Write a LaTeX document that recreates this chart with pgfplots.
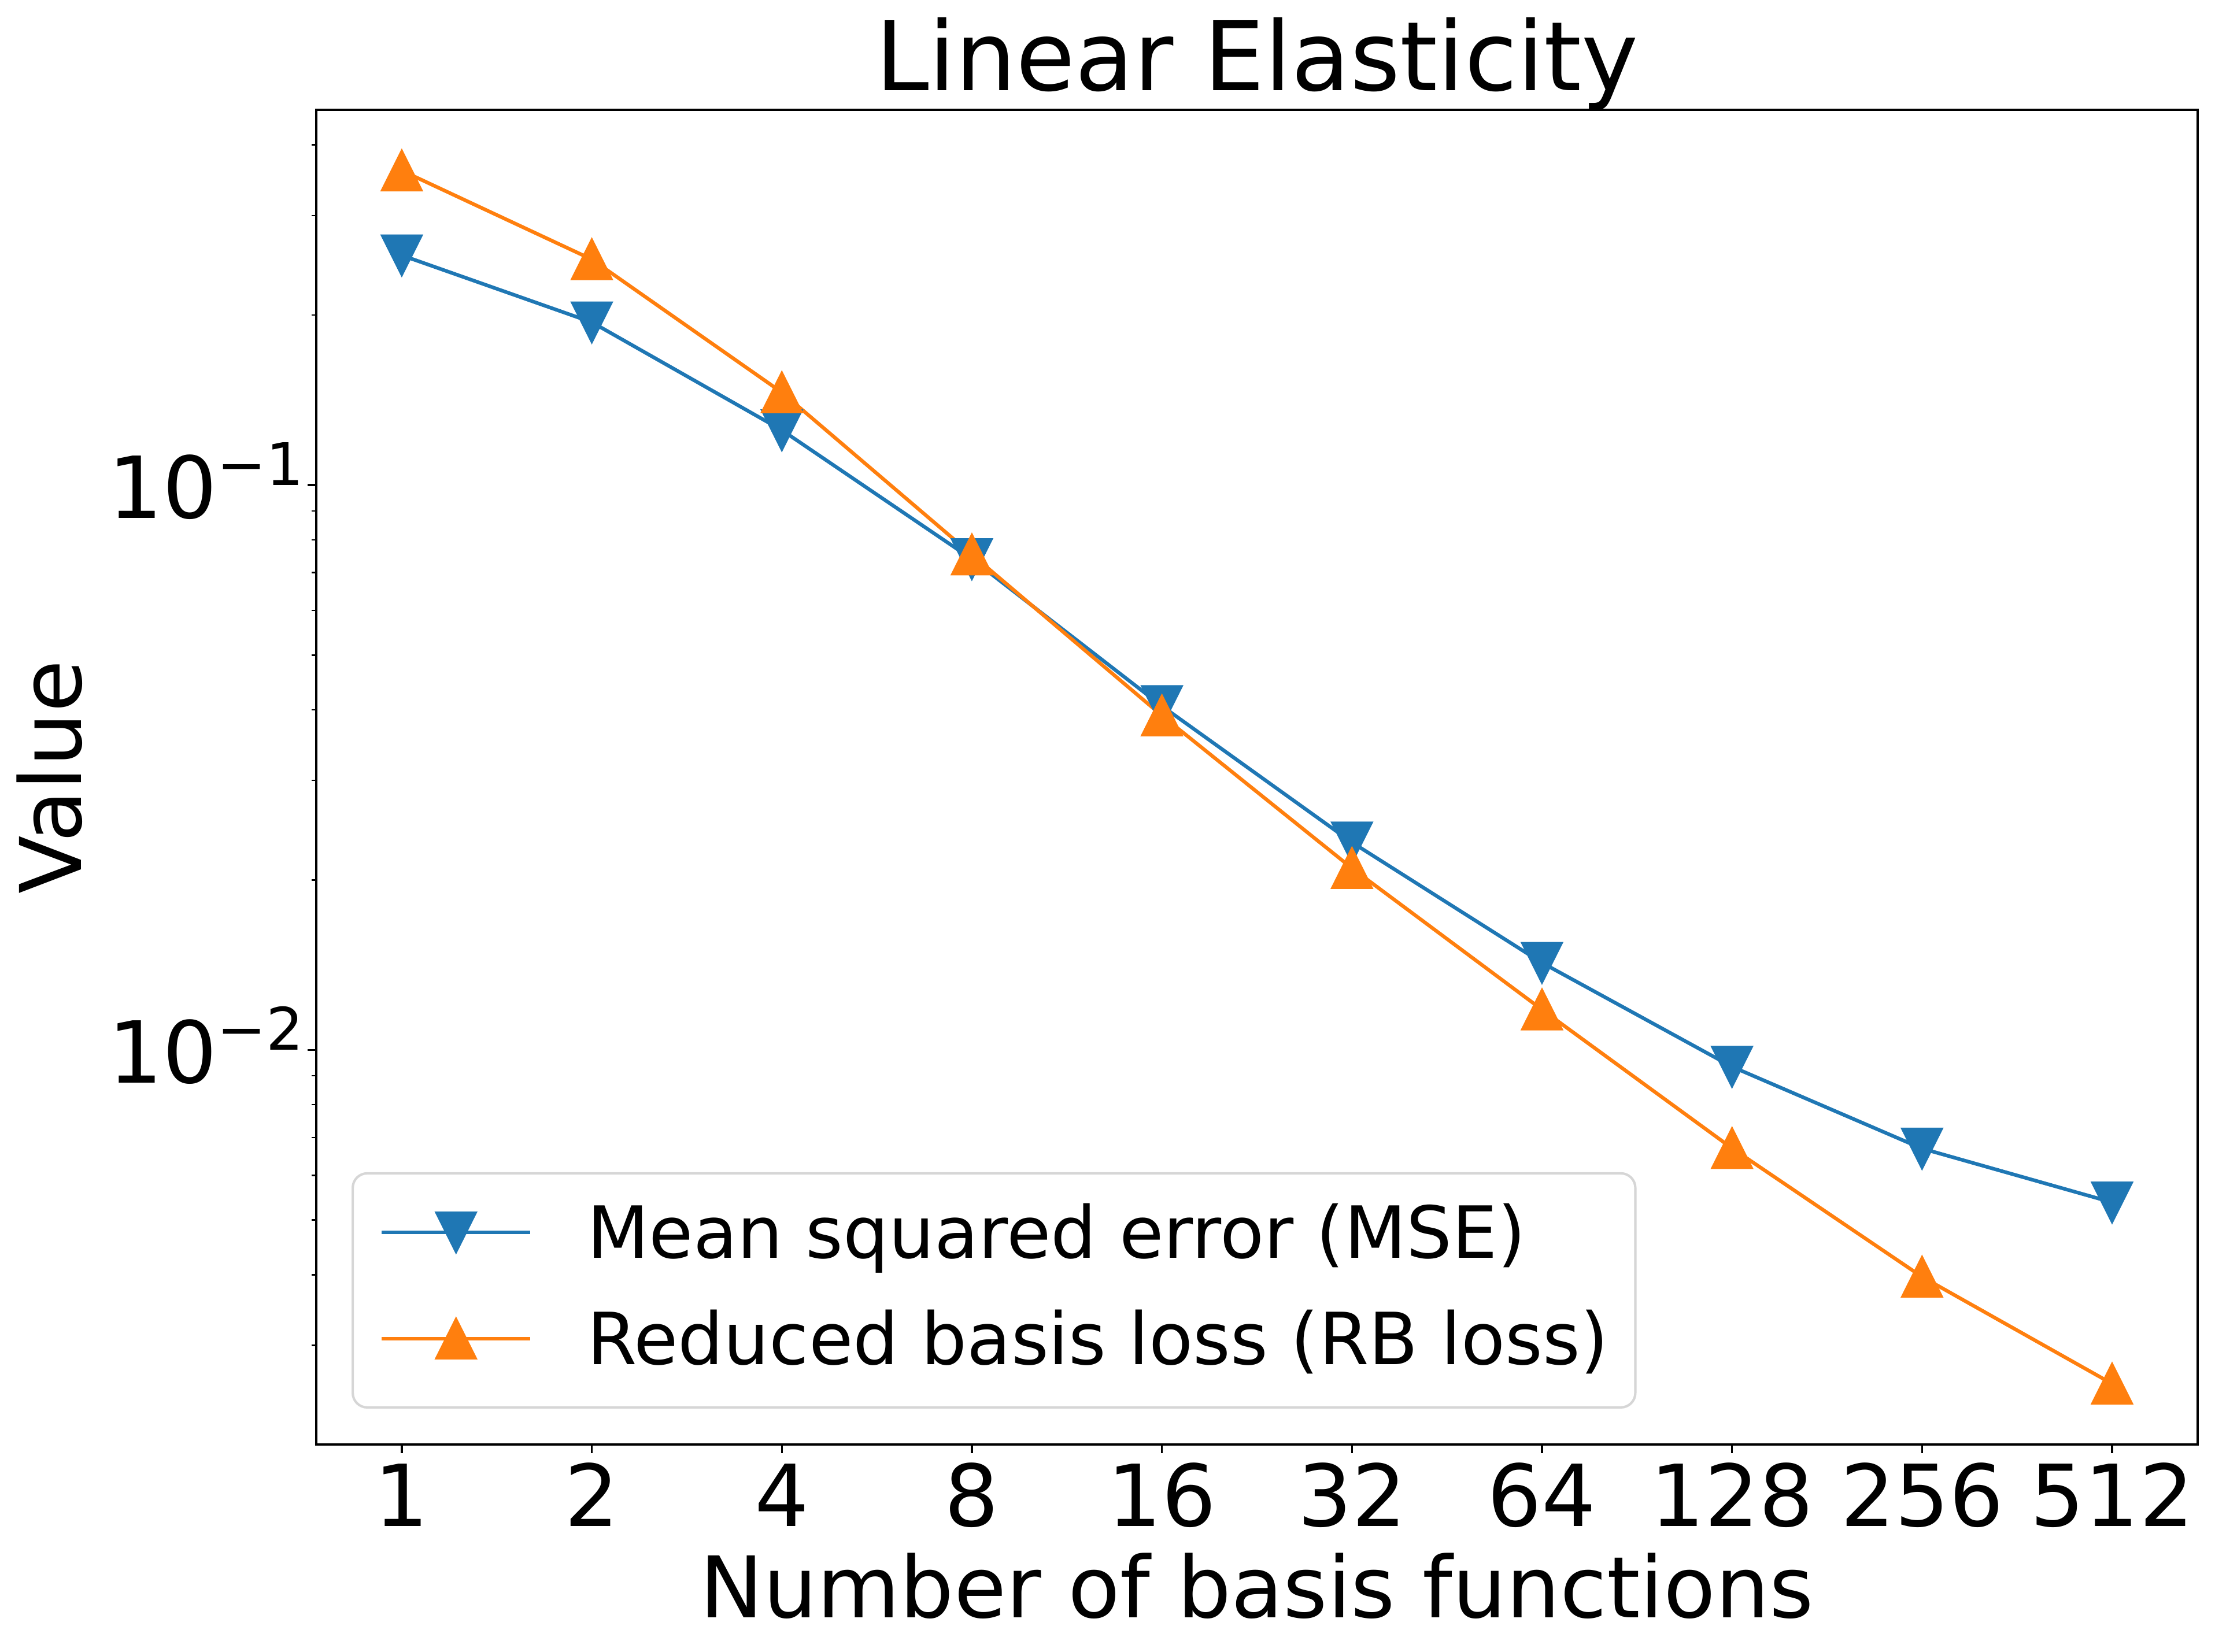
\documentclass[border=0pt]{standalone}
\usepackage{fontspec}
\setmainfont{DejaVu Sans}
\usepackage{pgfplots}
\pgfplotsset{compat=1.18}

\definecolor{mplblue}{HTML}{1F77B4}
\definecolor{mplorange}{HTML}{FF7F0E}
\definecolor{legframe}{HTML}{D6D6D6}

% matplotlib style triangles (width = height)
\pgfdeclareplotmark{tridown}{%
  \pgfpathmoveto{\pgfqpoint{0pt}{-\pgfplotmarksize}}%
  \pgfpathlineto{\pgfqpoint{-\pgfplotmarksize}{\pgfplotmarksize}}%
  \pgfpathlineto{\pgfqpoint{\pgfplotmarksize}{\pgfplotmarksize}}%
  \pgfpathclose
  \pgfusepathqfillstroke}
\pgfdeclareplotmark{triup}{%
  \pgfpathmoveto{\pgfqpoint{0pt}{\pgfplotmarksize}}%
  \pgfpathlineto{\pgfqpoint{-\pgfplotmarksize}{-\pgfplotmarksize}}%
  \pgfpathlineto{\pgfqpoint{\pgfplotmarksize}{-\pgfplotmarksize}}%
  \pgfpathclose
  \pgfusepathqfillstroke}

\newcommand{\expo}[1]{10\raisebox{5.7pt}{\fontsize{10.15}{12}\selectfont −#1}}

\begin{document}
\begin{tikzpicture}
\path[use as bounding box] (-54.7pt,-35.9pt) rectangle (328.4pt,249.9pt);
\begin{axis}[
  scale only axis, width=325.4pt, height=230.9pt,
  ymode=log,
  xmin=-0.45, xmax=9.45, ymin=0.002003, ymax=0.4615,
  xtick={0,...,9},
  xticklabels={1,2,4,8,16,32,64,128,256,512},
  ytick={0.01,0.1},
  yticklabels={\expo{2},\expo{1}},
  minor ytick={0.002,0.003,0.004,0.005,0.006,0.007,0.008,0.009,
    0.02,0.03,0.04,0.05,0.06,0.07,0.08,0.09,0.2,0.3,0.4},
  tick align=outside, xtick pos=left, ytick pos=left,
  major tick length=1.46pt, minor tick length=0.83pt,
  major tick style={black, line width=0.333pt},
  minor tick style={black, line width=0.25pt},
  axis line style={line width=0.333pt},
  xticklabel style={anchor=base, inner sep=0pt, yshift=-12.74pt, font=\fontsize{14.8}{17}\selectfont},
  yticklabel style={anchor=base east, inner sep=0pt, xshift=-0.5pt, yshift=-5.7pt, font=\fontsize{14.8}{17}\selectfont},
  title={Linear Elasticity},
  every axis title shift=0pt,
  title style={at={(0.5,1.01472)}, anchor=base, yshift=0pt, inner sep=0pt, font=\fontsize{16.6}{20}\selectfont},
  xlabel={Number of basis functions},
  xlabel style={at={(axis description cs:0.5,-0.12993)}, anchor=base, inner sep=0pt, font=\fontsize{14.7}{17}\selectfont},
  ylabel={Value},
  ylabel style={at={(axis description cs:-0.12477,0.5)}, anchor=base, inner sep=0pt, font=\fontsize{14.7}{17}\selectfont},
  legend style={
    at={(axis description cs:0.018746,0.026852)}, anchor=south west,
    draw=legframe, line width=0.417pt, rounded corners=2.5pt, fill=white,
    inner xsep=4.7pt, inner ysep=2pt, row sep=0.3pt, column sep=9.5pt,
    cells={anchor=base west},
    nodes={inner sep=0pt, text height=12.7pt, text depth=5.4pt},
    font=\fontsize{12.44}{15}\selectfont},
  legend image code/.code={\draw[sharp corners, mark repeat=2, mark phase=2, #1]
    plot coordinates {(0pt,4.5pt) (12.85pt,4.5pt) (25.7pt,4.5pt)};},
]
\addplot[mplblue, line width=0.625pt, mark=tridown, mark size=3.4pt,
  mark options={solid, fill=mplblue, line width=0.4pt}]
  coordinates {(0,0.2551)(1,0.1942)(2,0.1251)(3,0.07397)(4,0.04063)
    (5,0.02331)(6,0.01427)(7,0.009342)(8,0.006693)(9,0.005374)};
\addlegendentry{Mean squared error (MSE)}
\addplot[mplorange, line width=0.625pt, mark=triup, mark size=3.4pt,
  mark options={solid, fill=mplorange, line width=0.4pt}]
  coordinates {(0,0.3603)(1,0.2509)(2,0.1459)(3,0.07534)(4,0.03909)
    (5,0.02098)(6,0.01179)(7,0.006701)(8,0.003968)(9,0.002566)};
\addlegendentry{Reduced basis loss (RB loss)\hspace{0.7pt}}
\end{axis}
\end{tikzpicture}
\end{document}
